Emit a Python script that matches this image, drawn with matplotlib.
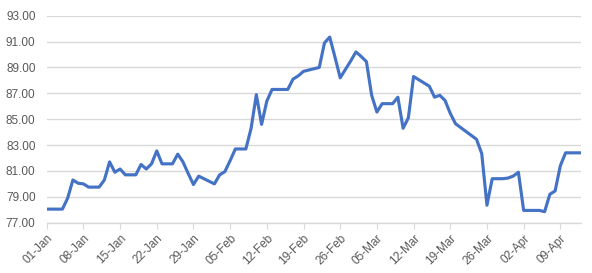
import matplotlib
matplotlib.use("Agg")
import matplotlib.pyplot as plt
import matplotlib.dates as mdates
from matplotlib.transforms import ScaledTranslation
import pandas as pd

start_date = "2019-01-01"
end_date = "2019-04-13"
values = [
    78.05, 78.05, 78.05, 78.05, 78.9, 80.3, 80.05, 80.0, 79.75, 79.75,
    79.75, 80.3, 81.7, 80.9, 81.15, 80.7, 80.7, 80.7, 81.5, 81.15,
    81.55, 82.55, 81.55, 81.55, 81.55, 82.3, 81.7, 80.8, 79.95, 80.6,
    80.4, 80.2, 80.0, 80.7, 80.95, 81.8, 82.7, 82.7, 82.7, 84.3,
    86.9, 84.6, 86.4, 87.3, 87.3, 87.3, 87.3, 88.1, 88.35, 88.7,
    88.8, 88.9, 89.0, 90.9, 91.35, 89.8, 88.2, 88.85, 89.5, 90.2,
    89.85, 89.45, 86.85, 85.55, 86.2, 86.2, 86.2, 86.7, 84.3, 85.1,
    88.3, 88.05, 87.8, 87.55, 86.7, 86.85, 86.45, 85.45, 84.65, 84.35,
    84.05, 83.75, 83.45, 82.35, 78.35, 80.4, 80.4, 80.4, 80.45, 80.6,
    80.9, 77.95, 77.95, 77.95, 77.95, 77.85, 79.2, 79.45, 81.4, 82.4,
    82.4, 82.4, 82.4,
]
y_ticks = [77, 79, 81, 83, 85, 87, 89, 91, 93]

dates = pd.date_range(start_date, end_date, freq="D")

plt.rcParams["font.family"] = ["Liberation Sans", "DejaVu Sans"]

fig = plt.figure(figsize=(5.92, 2.73), dpi=100)
ax = fig.add_axes([46.7 / 592, 1 - 222.7 / 273, (581.3 - 46.7) / 592, (222.7 - 15.7) / 273])

ax.plot(dates, values, color="#4472C4", linewidth=2.25, solid_joinstyle="round")

ax.set_xlim(dates[0], dates[-1])
ax.set_ylim(77, 93)
ax.set_yticks(y_ticks)
ax.yaxis.set_major_formatter(matplotlib.ticker.FuncFormatter(lambda v, p: f"{v:.2f}"))

tick_dates = dates[::7]
ax.set_xticks(tick_dates)
ax.set_xticklabels([d.strftime("%d-%b") for d in tick_dates], rotation=45, ha="right",
                   rotation_mode="anchor")
offset = ScaledTranslation(4 / 72, -2 / 72, fig.dpi_scale_trans)
for lbl in ax.get_xticklabels():
    lbl.set_transform(lbl.get_transform() + offset)

ax.grid(axis="y", color="#d9d9d9", linewidth=1)
ax.set_axisbelow(True)
for s in ["left", "top", "right"]:
    ax.spines[s].set_visible(False)
ax.spines["bottom"].set_color("#d9d9d9")
ax.spines["bottom"].set_linewidth(1)

ax.tick_params(axis="y", length=0, labelsize=8.5, colors="#595959", pad=8)
ax.tick_params(axis="x", length=4, color="#d9d9d9", labelsize=8.5, labelcolor="#595959", pad=3)

fig.savefig("out.png", dpi=100)
